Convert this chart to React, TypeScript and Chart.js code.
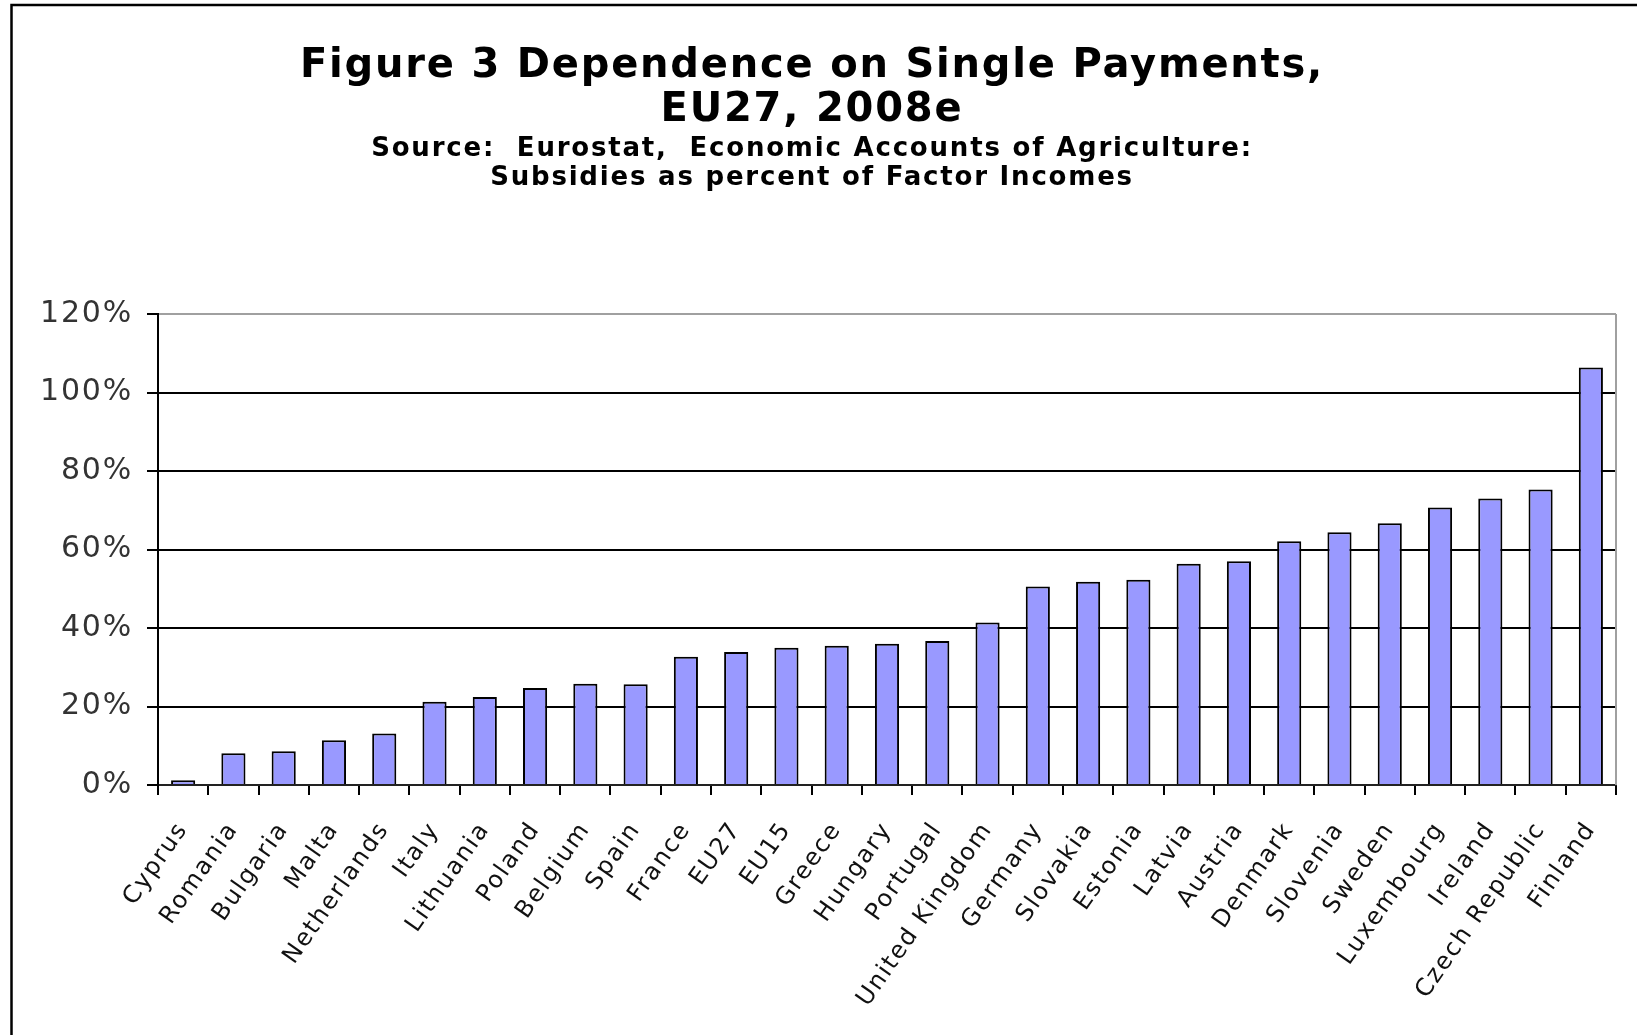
import React, { useEffect, useRef } from 'react';
import { Chart, registerables } from 'chart.js';

Chart.register(...registerables);

const titleLines = ['Figure 3 Dependence on Single Payments,', 'EU27, 2008e'];
const subtitleLines = [
  'Source:  Eurostat,  Economic Accounts of Agriculture:',
  'Subsidies as percent of Factor Incomes',
];

const categories = [
  'Cyprus', 'Romania', 'Bulgaria', 'Malta', 'Netherlands', 'Italy', 'Lithuania',
  'Poland', 'Belgium', 'Spain', 'France', 'EU27', 'EU15', 'Greece', 'Hungary',
  'Portugal', 'United Kingdom', 'Germany', 'Slovakia', 'Estonia', 'Latvia',
  'Austria', 'Denmark', 'Slovenia', 'Sweden', 'Luxembourg', 'Ireland',
  'Czech Republic', 'Finland',
];

const subsidyShare = [
  1.2, 8.1, 8.6, 11.4, 13.1, 21.2, 22.4, 24.7, 25.8, 25.7, 32.7, 33.9, 35.0,
  35.5, 36.0, 36.7, 41.4, 50.6, 51.8, 52.3, 56.4, 57.0, 62.1, 64.4, 66.7,
  70.7, 73.0, 75.3, 106.4,
];

const yTicks = [0, 20, 40, 60, 80, 100, 120];

const W = 1637;
const H = 1035;

const framePlugin = {
  id: 'frame',
  beforeDraw(chart: any) {
    const ctx = chart.ctx;
    ctx.save();
    ctx.fillStyle = '#ffffff';
    ctx.fillRect(0, 0, chart.width, chart.height);
    ctx.strokeStyle = '#000000';
    ctx.lineWidth = 2.5;
    ctx.beginPath();
    ctx.moveTo(11.5, chart.height);
    ctx.lineTo(11.5, 5);
    ctx.lineTo(chart.width, 5);
    ctx.stroke();
    ctx.restore();
    // the reference text is rendered wide; widen glyph runs a little
    (ctx as any).letterSpacing = '1.8px';
  },
  beforeDatasetsDraw(chart: any) {
    const { ctx, chartArea } = chart;
    ctx.save();
    ctx.strokeStyle = '#a0a0a0';
    ctx.lineWidth = 2;
    ctx.beginPath();
    ctx.moveTo(chartArea.right, chartArea.top);
    ctx.lineTo(chartArea.right, chartArea.bottom);
    ctx.stroke();
    ctx.restore();
  },
  afterDraw(chart: any) {
    (chart.ctx as any).letterSpacing = '0px';
  },
};

export default function App() {
  const canvasRef = useRef<HTMLCanvasElement | null>(null);

  useEffect(() => {
    document.body.style.margin = '0';
    const canvas = canvasRef.current;
    if (!canvas) return;
    const chart = new Chart(canvas, {
      type: 'bar',
      data: {
        labels: categories,
        datasets: [
          {
            data: subsidyShare,
            backgroundColor: '#9999ff',
            borderColor: '#000000',
            borderWidth: 2,
            barPercentage: 0.48,
            categoryPercentage: 1,
          },
        ],
      },
      options: {
        responsive: false,
        animation: false,
        devicePixelRatio: 1,
        layout: { padding: { left: 8, right: 21, top: 0, bottom: 0 } },
        plugins: {
          legend: { display: false },
          tooltip: { enabled: false },
          title: {
            display: true,
            text: titleLines,
            color: '#000000',
            font: { family: 'DejaVu Sans', size: 40, weight: 'bold', lineHeight: '44px' },
            padding: { top: 45, bottom: 2 },
          },
          subtitle: {
            display: true,
            text: subtitleLines,
            color: '#000000',
            font: { family: 'DejaVu Sans', size: 26, weight: 'bold', lineHeight: '29px' },
            padding: { top: 0, bottom: 121 },
          },
        },
        scales: {
          x: {
            offset: true,
            grid: {
              display: true,
              offset: true,
              drawOnChartArea: false,
              drawTicks: true,
              tickLength: 10,
              color: '#000000',
              lineWidth: 2,
            },
            border: { display: true, color: '#222222', width: 2 },
            ticks: {
              autoSkip: false,
              minRotation: 55,
              maxRotation: 55,
              padding: 22,
              color: '#111111',
              font: { family: 'DejaVu Sans', size: 24 },
            },
            afterFit(axis: any) {
              axis.height = 250;
            },
          },
          y: {
            min: 0,
            max: 120,
            afterBuildTicks(axis: any) {
              axis.ticks = yTicks.map((v) => ({ value: v }));
            },
            grid: {
              drawTicks: true,
              tickLength: 11,
              color: (c: any) => (c.tick && c.tick.value === 120 ? '#a0a0a0' : '#000000'),
              tickColor: '#000000',
              lineWidth: 2,
            },
            border: { display: true, color: '#000000', width: 2 },
            ticks: {
              padding: 14,
              color: '#333333',
              font: { family: 'DejaVu Sans', size: 30 },
              callback: (v: any) => `${v}%`,
            },
            afterFit(axis: any) {
              axis.width = 150;
            },
          },
        },
      },
      plugins: [framePlugin],
    });
    return () => chart.destroy();
  }, []);

  return (
    <div style={{ width: W, height: H, position: 'relative', background: '#fff' }}>
      <canvas ref={canvasRef} width={W} height={H} style={{ display: 'block' }} />
    </div>
  );
}
